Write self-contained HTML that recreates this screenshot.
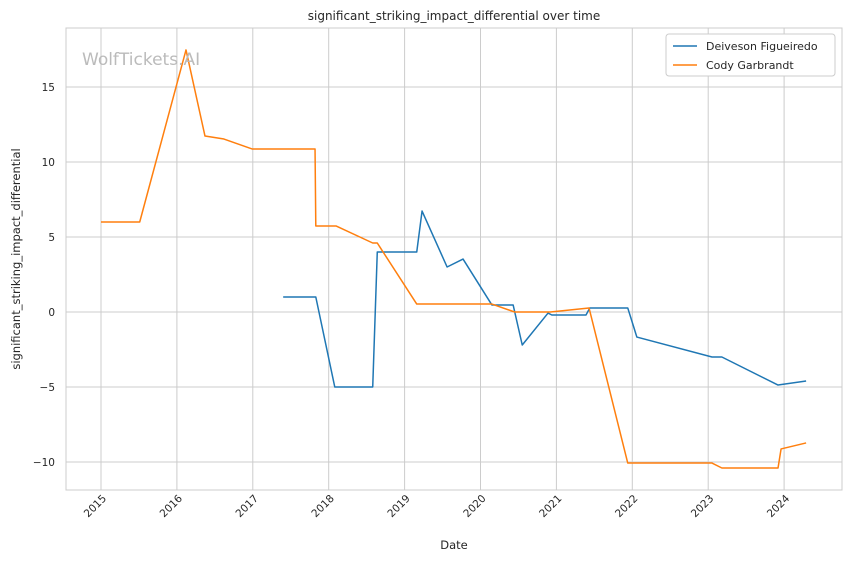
<!DOCTYPE html>
<html><head><meta charset="utf-8"><style>
body{margin:0;background:#fff;font-family:"Liberation Sans","DejaVu Sans",sans-serif}
svg text{font-family:"DejaVu Sans","Liberation Sans",sans-serif}
</style></head><body>
<svg id="c" width="850" height="561" xmlns="http://www.w3.org/2000/svg"></svg>
<script>
const xTicks=[2015,2016,2017,2018,2019,2020,2021,2022,2023,2024];
const yTicks=[-10,-5,0,5,10,15];
const blueDates=[17.40,17.83,18.08,18.58,18.64,19.16,19.23,19.56,19.77,20.15,20.43,20.55,20.89,20.94,21.39,21.44,21.94,22.06,23.05,23.18,23.92,24.29];
const blueValues=[1,1,-5,-5,4,4,6.73,3,3.53,0.47,0.47,-2.2,-0.07,-0.2,-0.2,0.27,0.27,-1.67,-3,-3,-4.87,-4.6];
const orangeDates=[15.0,15.51,16.12,16.37,16.62,16.99,17.82,17.83,18.10,18.58,18.64,19.16,20.15,20.45,20.92,21.43,21.94,23.05,23.18,23.92,23.96,24.29];
const orangeValues=[6,6,17.47,11.73,11.53,10.87,10.87,5.73,5.73,4.6,4.6,0.53,0.53,0,0,0.27,-10.07,-10.07,-10.4,-10.4,-9.13,-8.73];
const seriesNames=["Deiveson Figueiredo","Cody Garbrandt"];
const L=66,R=842,T=28,B=490;
const xs=v=>101+(v-2015)*75.9;
const ys=v=>312-v*15;
const svg=document.getElementById('c');
const NS='http://www.w3.org/2000/svg';
function el(t,a,p){const e=document.createElementNS(NS,t);for(const k in a)e.setAttribute(k,a[k]);(p||svg).appendChild(e);return e;}
let e;
e=el('rect',{x:L,y:T,width:R-L,height:B-T,fill:'#fff',stroke:'#ccc','stroke-width':1});


xTicks.forEach(t=>{
 const x=xs(t);
 e=el('line',{x1:x,x2:x,y1:T,y2:B,stroke:'#cccccc','stroke-width':1});
 
 
 e=el('text',{x:0,y:0,'font-size':10.5,fill:'#262626','text-anchor':'end',transform:`translate(${x+6},${B+9}) rotate(-45)`});
 e.textContent=t;
 
 
});
yTicks.forEach(t=>{
 const y=ys(t);
 e=el('line',{x1:L,x2:R,y1:y,y2:y,stroke:'#cccccc','stroke-width':1});
 
 
 e=el('text',{x:L-11,y:y+4,'font-size':10.5,fill:'#262626','text-anchor':'end'});
 e.textContent=String(t).replace('-','\u2212');
 
 
});
function line(ds,vs,c,n){
 const p=ds.map((d,i)=>xs(2000+d)+','+ys(vs[i])).join(' ');
 const l=el('polyline',{points:p,fill:'none',stroke:c,'stroke-width':1.5,'stroke-linejoin':'round'});
 
 
}
line(blueDates,blueValues,'#1f77b4','series-figueiredo');
line(orangeDates,orangeValues,'#ff7f0e','series-garbrandt');
e=el('text',{x:82,y:65,'font-size':17,fill:'#bbbbbb'});e.textContent='WolfTickets.AI';


e=el('text',{x:454,y:20,'font-size':12,fill:'#262626','text-anchor':'middle'});e.textContent='significant_striking_impact_differential over time';


e=el('text',{x:454,y:549,'font-size':11.5,fill:'#262626','text-anchor':'middle'});e.textContent='Date';


e=el('text',{x:0,y:0,'font-size':11.5,fill:'#262626','text-anchor':'middle',transform:'translate(20,259) rotate(-90)'});e.textContent='significant_striking_impact_differential';


const g=el('g',{});


el('rect',{x:666,y:34,width:169,height:42,rx:3,fill:'#fff',stroke:'#cccccc'},g);
['#1f77b4','#ff7f0e'].forEach((c,i)=>{
 const y=46+i*19;
 el('line',{x1:673,x2:697,y1:y,y2:y,stroke:c,'stroke-width':1.5},g);
 e=el('text',{x:706,y:y+4,'font-size':11,fill:'#262626'},g);e.textContent=seriesNames[i];
 
 
});
</script>
</body></html>
